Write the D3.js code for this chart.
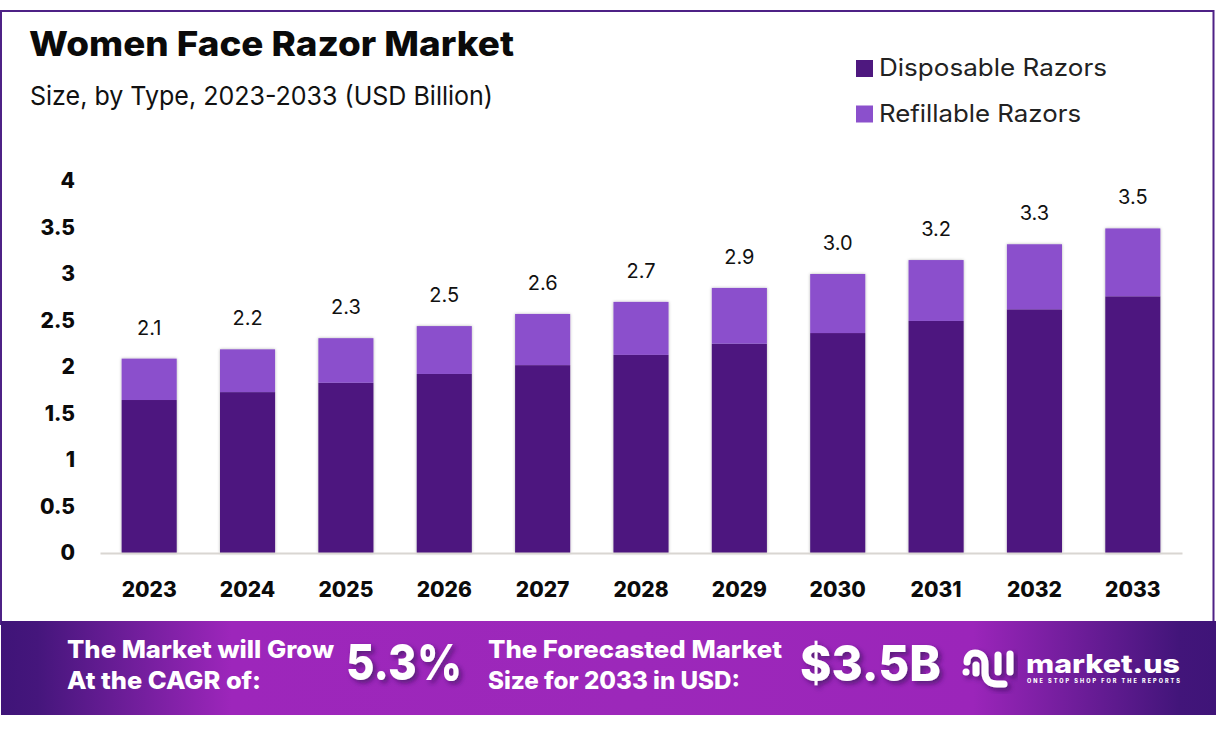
<!DOCTYPE html>
<html>
<head>
<meta charset="utf-8" />
<script src="https://d3js.org/d3.v7.min.js"></script>
<style>
  html, body { margin: 0; padding: 0; background: #fff; }
  svg { display: block; }
  text { font-family: Inter, "Open Sans", sans-serif; }
</style>
</head>
<body>
<div id="my_chart"></div>
<script>
  // values
  var years = ["2023","2024","2025","2026","2027","2028","2029","2030","2031","2032","2033"];
  var disposable = [1.645,1.73,1.83,1.925,2.02,2.13,2.25,2.365,2.495,2.62,2.76];
  var refillable = [0.445,0.46,0.48,0.515,0.55,0.57,0.6,0.635,0.655,0.70,0.73];
  var totalLabels = ["2.1","2.2","2.3","2.5","2.6","2.7","2.9","3.0","3.2","3.3","3.5"];
  var yTicks = [0,0.5,1,1.5,2,2.5,3,3.5,4];
  var seriesNames = ["Disposable Razors","Refillable Razors"];
  var seriesColors = ["#4e187f","#8b50cc"];

  var width = 1216, height = 729;

  var svg = d3.select("#my_chart").append("svg")
    .attr("width", width)
    .attr("height", height);

  var defs = svg.append("defs");

  var bannerGrad = defs.append("linearGradient").attr("id", "bannerGrad");
  bannerGrad.append("stop").attr("offset", "0%").attr("stop-color", "#3f1478");
  bannerGrad.append("stop").attr("offset", "3%").attr("stop-color", "#45167c");
  bannerGrad.append("stop").attr("offset", "19%").attr("stop-color", "#9d26bb");
  bannerGrad.append("stop").attr("offset", "52%").attr("stop-color", "#9c28ba");
  bannerGrad.append("stop").attr("offset", "80%").attr("stop-color", "#9b25ba");
  bannerGrad.append("stop").attr("offset", "97%").attr("stop-color", "#42157a");
  bannerGrad.append("stop").attr("offset", "100%").attr("stop-color", "#3f1478");

  var barShadow = defs.append("filter").attr("id", "barShadow")
    .attr("x", "-10%").attr("y", "-5%").attr("width", "120%").attr("height", "110%");
  barShadow.append("feDropShadow").attr("dx", 0).attr("dy", 0)
    .attr("stdDeviation", 1.5).attr("flood-color", "#000").attr("flood-opacity", 0.3);

  var textShadow = defs.append("filter").attr("id", "textShadow")
    .attr("x", "-10%").attr("y", "-20%").attr("width", "125%").attr("height", "150%");
  textShadow.append("feDropShadow").attr("dx", 3).attr("dy", 3)
    .attr("stdDeviation", 2.5).attr("flood-color", "#2a0a50").attr("flood-opacity", 0.6);

  // outer frame
  svg.append("path")
    .attr("d", "M1,625V11H1213.5V625")
    .attr("fill", "none")
    .attr("stroke", "#4e2186")
    .attr("stroke-width", 2);

  // scales
  var x = d3.scaleBand().domain(years).range([100, 1182])
    .paddingInner(0.44).paddingOuter(0.22);
  var y = d3.scaleLinear().domain([0, 4]).range([553, 181]);

  // stacked bars
  var rows = years.map(function (d, i) {
    return { year: d, disposable: disposable[i], refillable: refillable[i] };
  });
  var stacked = d3.stack().keys(["disposable", "refillable"])(rows);

  var barG = svg.append("g").attr("filter", "url(#barShadow)");
  stacked.forEach(function (layer, k) {
    barG.selectAll("rect.s" + k)
      .data(layer)
      .enter()
      .append("rect")
      .attr("class", "s" + k)
      .attr("x", function (d) { return x(d.data.year); })
      .attr("y", function (d) { return y(d[1]); })
      .attr("width", x.bandwidth())
      .attr("height", function (d) { return y(d[0]) - y(d[1]); })
      .attr("fill", seriesColors[k]);
  });

  // total labels
  svg.selectAll("text.total")
    .data(rows)
    .enter()
    .append("text")
    .attr("class", "total")
    .attr("x", function (d) { return x(d.year) + x.bandwidth() / 2; })
    .attr("y", function (d) { return y(d.disposable + d.refillable) - 24; })
    .attr("text-anchor", "middle")
    .attr("font-size", 20)
    .attr("fill", "#111")
    .text(function (d, i) { return totalLabels[i]; });

  // x axis
  var xAxis = svg.append("g")
    .attr("transform", "translate(0,553)")
    .call(d3.axisBottom(x).tickSize(0).tickPadding(29));
  xAxis.select(".domain").attr("stroke", "#d9d6d2").attr("stroke-width", 2);
  xAxis.selectAll("text")
    .attr("font-family", "Inter, sans-serif")
    .attr("font-size", 21)
    .attr("font-weight", 800)
    .attr("fill", "#0b0b0b");

  // y axis
  var yAxis = svg.append("g")
    .attr("transform", "translate(75,0)")
    .call(d3.axisLeft(y).tickValues(yTicks).tickFormat(d3.format("")).tickSize(0).tickPadding(0));
  yAxis.select(".domain").remove();
  yAxis.selectAll("text")
    .attr("font-family", "Inter, sans-serif")
    .attr("font-size", 21)
    .attr("font-weight", 800)
    .attr("fill", "#0b0b0b");

  // title
  svg.append("text").attr("x", 29).attr("y", 56)
    .attr("font-size", 34).attr("font-weight", 800).attr("fill", "#0a0a0a")
    .attr("textLength", 485).attr("lengthAdjust", "spacingAndGlyphs")
    .text("Women Face Razor Market");
  svg.append("text").attr("x", 30).attr("y", 105)
    .attr("font-size", 26).attr("font-weight", 400).attr("fill", "#111")
    .attr("textLength", 463).attr("lengthAdjust", "spacingAndGlyphs")
    .text("Size, by Type, 2023-2033 (USD Billion)");

  // legend
  var legend = svg.selectAll("g.legend")
    .data(seriesNames)
    .enter()
    .append("g")
    .attr("class", "legend")
    .attr("transform", function (d, i) { return "translate(856," + (60 + i * 45.5) + ")"; });
  legend.append("rect")
    .attr("width", 17).attr("height", 17)
    .attr("fill", function (d, i) { return seriesColors[i]; });
  legend.append("text")
    .attr("x", 23).attr("y", 16)
    .attr("font-size", 24).attr("fill", "#222")
    .attr("textLength", function (d, i) { return i == 0 ? 228 : 202; })
    .attr("lengthAdjust", "spacingAndGlyphs")
    .text(function (d) { return d; });

  // bottom banner
  var banner = svg.append("g");
  banner.append("rect")
    .attr("x", 1).attr("y", 621).attr("width", 1215).attr("height", 94)
    .attr("fill", "url(#bannerGrad)");

  function bannerText(str, tx, ty, size, len) {
    return banner.append("text")
      .attr("x", tx).attr("y", ty)
      .attr("font-size", size).attr("font-weight", 800).attr("fill", "#fff")
      .attr("textLength", len).attr("lengthAdjust", "spacingAndGlyphs")
      .text(str);
  }
  bannerText("The Market will Grow", 67, 658, 24, 267);
  bannerText("At the CAGR of:", 67, 689, 24, 194);
  bannerText("The Forecasted Market", 488, 658, 24, 294);
  bannerText("Size for 2033 in USD:", 488, 689, 24, 252);
  bannerText("5.3%", 346, 680, 50, 116).attr("filter", "url(#textShadow)");
  bannerText("$3.5B", 800, 681, 50, 141).attr("filter", "url(#textShadow)");

  // market.us logo, plain strokes
  var logo = banner.append("g").attr("filter", "url(#textShadow)");
  var logoLines = logo.append("g")
    .attr("fill", "none").attr("stroke", "#fff")
    .attr("stroke-width", 7).attr("stroke-linecap", "round");
  logoLines.append("path").attr("d", "M967,662C967,656 971,653 975,653C982,653 985,658 985,664V673C985,680 990,684 997,684H1004");
  logoLines.append("path").attr("d", "M976,665V673");
  logoLines.append("path").attr("d", "M998,655V672");
  logoLines.append("path").attr("d", "M1010,654V672");
  logo.append("circle").attr("cx", 966).attr("cy", 672).attr("r", 3.5).attr("fill", "#fff");

  bannerText("market.us", 1026, 673, 26, 154);
  banner.append("text")
    .attr("x", 1027).attr("y", 683)
    .attr("font-size", 5.5).attr("font-weight", 800).attr("fill", "#fff")
    .attr("textLength", 153).attr("lengthAdjust", "spacing")
    .text("ONE STOP SHOP FOR THE REPORTS");
</script>
</body>
</html>
